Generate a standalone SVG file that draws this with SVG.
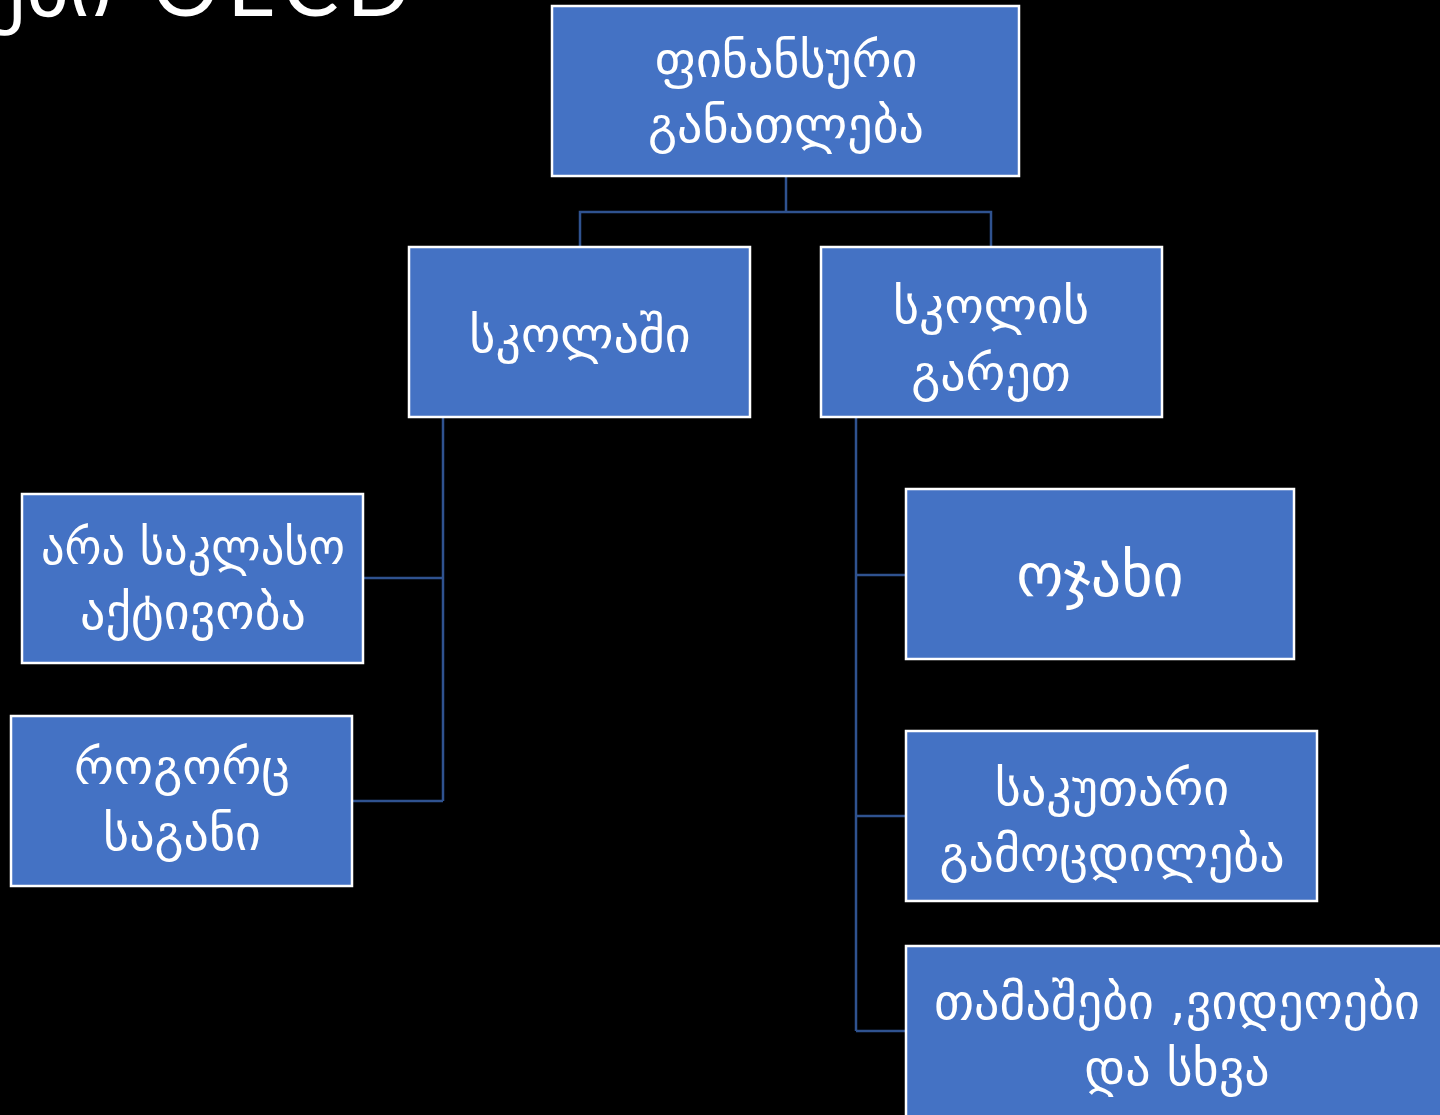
<svg xmlns="http://www.w3.org/2000/svg" width="1440" height="1115" viewBox="0 0 1440 1115">
<style>
.node rect{fill:#4472C4;stroke:#FFFFFF;stroke-width:2.5}
.node text{fill:#FFFFFF;font-family:"DejaVu Sans","Noto Sans",sans-serif;font-size:50px;text-anchor:middle}
.conn path{fill:none;stroke:#2F528F;stroke-width:2.5}
.title{fill:#FFFFFF;font-family:"Lato","Open Sans",sans-serif;font-size:84px}
</style>
<rect x="0" y="0" width="1440" height="1115" fill="#000000"/>
<text class="title" x="112" y="16" text-anchor="end" font-family="DejaVu Sans, sans-serif">ები</text>
<text class="title" x="152" y="16" letter-spacing="8">OECD</text>
<g id="connectors" class="conn">
<path d="M786 176 V212 M580 247 V212 H991 V247"/>
<path d="M443 417 V801 M363 578 H443 M352 801 H443"/>
<path d="M856 417 V1031 M856 575 H906 M856 816 H906 M856 1031 H906"/>
</g>
<g id="n-root" class="node">
<rect x="552" y="6" width="467" height="170"/>
<text x="786" y="77">ფინანსური</text>
<text x="786" y="142">განათლება</text>
</g>
<g id="n-school" class="node">
<rect x="409" y="247" width="341" height="170"/>
<text x="580" y="352">სკოლაში</text>
</g>
<g id="n-outside" class="node">
<rect x="821" y="247" width="341" height="170"/>
<text x="991" y="323">სკოლის</text>
<text x="991" y="390">გარეთ</text>
</g>
<g id="n-extra" class="node">
<rect x="22" y="494" width="341" height="169"/>
<text x="193" y="564" textLength="304" lengthAdjust="spacingAndGlyphs">არა საკლასო</text>
<text x="193" y="629">აქტივობა</text>
</g>
<g id="n-subject" class="node">
<rect x="11" y="716" width="341" height="170"/>
<text x="182" y="784">როგორც</text>
<text x="182" y="850">საგანი</text>
</g>
<g id="n-family" class="node">
<rect x="906" y="489" width="388" height="170"/>
<text x="1100" y="596" style="font-size:60px">ოჯახი</text>
</g>
<g id="n-experience" class="node">
<rect x="906" y="731" width="411" height="170"/>
<text x="1112" y="805">საკუთარი</text>
<text x="1112" y="871">გამოცდილება</text>
</g>
<g id="n-games" class="node">
<rect x="906" y="946" width="545" height="180"/>
<text x="1177" y="1019">თამაშები ,ვიდეოები</text>
<text x="1177" y="1085">და სხვა</text>
</g>
</svg>
